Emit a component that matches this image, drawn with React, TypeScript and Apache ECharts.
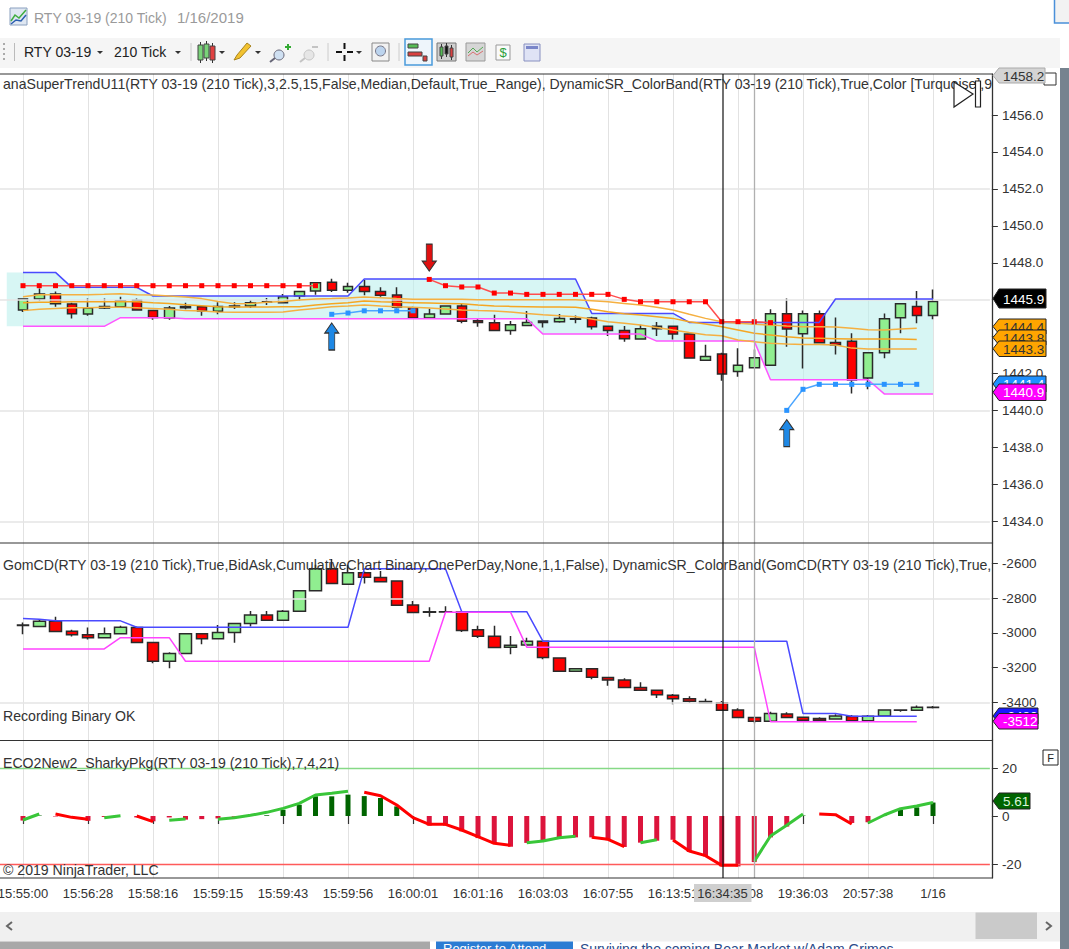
import React, { useEffect, useRef } from "react";
import * as echarts from "echarts";

const FONT = '"Liberation Sans", Arial, sans-serif';

// x-axis tick labels, one per four bars
const TICK_LABELS = ["15:55:00", "15:56:28", "15:58:16", "15:59:15", "15:59:43", "15:59:56", "16:00:01", "16:01:16", "16:03:03", "16:07:55", "16:13:51", "16:55:08", "19:36:03", "20:57:38", "1/16"];

// Price candles [open, close, low, high]
const PRICE_BARS = [
  [1445.44, 1446.04, 1445.33, 1446.04], [1446.04, 1446.31, 1445.95, 1446.61], [1446.31, 1445.78, 1445.62, 1446.45],
  [1445.77, 1445.24, 1444.99, 1445.84], [1445.23, 1445.55, 1445.13, 1446.06], [1445.64, 1445.55, 1445.50, 1446.06],
  [1445.62, 1445.95, 1445.59, 1446.16], [1445.97, 1445.44, 1445.41, 1446.06], [1445.42, 1445.04, 1444.92, 1445.46],
  [1445.01, 1445.55, 1444.92, 1445.66], [1445.64, 1445.57, 1445.48, 1445.84], [1445.62, 1445.39, 1445.13, 1445.66],
  [1445.37, 1445.64, 1445.21, 1445.87], [1445.62, 1445.66, 1445.50, 1445.86], [1445.66, 1445.84, 1445.55, 1445.98],
  [1445.86, 1445.89, 1445.71, 1446.09], [1445.84, 1446.16, 1445.84, 1446.31], [1446.20, 1446.45, 1445.95, 1446.45],
  [1446.47, 1446.92, 1446.27, 1446.96], [1446.94, 1446.51, 1446.42, 1447.14], [1446.51, 1446.72, 1446.38, 1446.92],
  [1446.72, 1446.45, 1446.24, 1447.07], [1446.45, 1446.24, 1446.16, 1446.67], [1446.25, 1445.59, 1445.53, 1446.67],
  [1445.57, 1445.01, 1444.99, 1445.62], [1445.01, 1445.23, 1444.97, 1445.51], [1445.23, 1445.66, 1445.23, 1445.66],
  [1445.66, 1444.83, 1444.72, 1445.77], [1444.86, 1444.77, 1444.54, 1444.99], [1444.76, 1444.34, 1444.34, 1445.19],
  [1444.34, 1444.65, 1444.11, 1444.85], [1444.61, 1444.77, 1444.58, 1445.39], [1444.85, 1444.77, 1444.50, 1444.86],
  [1444.81, 1444.99, 1444.76, 1445.23], [1444.94, 1444.97, 1444.72, 1445.15], [1445.01, 1444.54, 1444.39, 1445.08],
  [1444.56, 1444.34, 1444.03, 1444.58], [1444.34, 1443.89, 1443.73, 1444.58], [1443.87, 1444.43, 1443.85, 1444.65],
  [1444.43, 1444.56, 1444.03, 1444.79], [1444.56, 1444.14, 1443.85, 1444.58], [1444.14, 1442.84, 1442.84, 1444.14],
  [1442.72, 1442.93, 1442.72, 1443.56], [1443.06, 1441.98, 1441.62, 1443.13], [1442.12, 1442.45, 1441.83, 1443.37],
  [1442.32, 1442.86, 1442.32, 1443.31], [1442.45, 1445.24, 1442.45, 1445.48], [1445.24, 1444.41, 1443.46, 1446.07],
  [1444.16, 1445.24, 1442.28, 1445.41], [1445.24, 1443.67, 1443.67, 1445.41], [1443.69, 1443.55, 1443.04, 1445.04],
  [1443.75, 1441.65, 1440.93, 1444.18], [1441.76, 1443.13, 1441.15, 1443.13], [1443.13, 1444.97, 1442.83, 1445.26],
  [1445.03, 1445.78, 1444.18, 1445.78], [1445.64, 1445.15, 1444.72, 1446.47], [1445.15, 1445.9, 1444.94, 1446.56],
];

const BAND_UPPER = [
  1447.48, 1447.48, 1447.48, 1446.67, 1446.67, 1446.67, 1446.67, 1446.67, 1446.2, 1446.2, 1446.2, 1446.2, 1446.2, 1446.2, 1446.2, 1446.2, 1446.2, 1446.2, 1446.2, 1446.2, 1446.2,
  1447.12, 1447.12, 1447.12, 1447.12, 1447.12, 1447.12, 1447.12, 1447.12, 1447.12, 1447.12, 1447.12, 1447.12, 1447.12, 1447.12,
  1445.26, 1445.26, 1445.26, 1445.26, 1445.26, 1445.26, 1444.77, 1444.77, 1444.77, 1444.77, 1444.77, 1444.77, 1444.77, 1444.77, 1444.77,
  1446.04, 1446.04, 1446.04, 1446.04, 1446.04, 1446.04, 1446.04,
];
const BAND_LOWER = [
  1444.56, 1444.56, 1444.56, 1444.56, 1444.56, 1444.56, 1445.03, 1445.03, 1445.03, 1445.03,
  1444.97, 1444.97, 1444.97, 1444.97, 1444.97, 1444.97, 1444.97, 1444.97, 1444.97, 1444.97, 1444.97, 1444.97, 1444.97, 1444.97, 1444.97, 1444.97, 1444.97, 1444.97, 1444.97, 1444.97, 1444.97, 1444.97,
  1444.14, 1444.14, 1444.14, 1444.14, 1444.14, 1444.14, 1444.14, 1443.76, 1443.76, 1443.76, 1443.76, 1443.76, 1443.76, 1443.76,
  1441.67, 1441.67, 1441.67, 1441.67, 1441.67, 1441.67, 1441.67, 1440.9, 1440.9, 1440.9, 1440.9,
];
const TREND_RED = [
  1446.76, 1446.76, 1446.76, 1446.76, 1446.76, 1446.76, 1446.76, 1446.76, 1446.76, 1446.76, 1446.76, 1446.76, 1446.76, 1446.76, 1446.76, 1446.76, 1446.76, 1446.76, 1446.76,
  null, null, null, null, null, null,
  1447.1, 1446.76, 1446.69, 1446.69, 1446.36, 1446.36, 1446.29, 1446.29, 1446.29, 1446.29, 1446.29, 1446.29, 1446.02, 1445.89, 1445.89, 1445.89, 1445.89, 1445.89, 1444.81, 1444.81, 1444.81, 1444.76,
  null, null, null, null, null, null, null, null, null, null,
];
const TREND_BLUE = [
  null, null, null, null, null, null, null, null, null, null, null, null, null, null, null, null, null, null, null,
  1445.21, 1445.28, 1445.4, 1445.4, 1445.4, 1445.4,
  null, null, null, null, null, null, null, null, null, null, null, null, null, null, null, null, null, null, null, null, null, null,
  1440.01, 1441.15, 1441.42, 1441.42, 1441.42, 1441.42, 1441.42, 1441.42, 1441.42, null,
];
const MA_TOP = [
  1446.16, 1446.27, 1446.27, 1446.27, 1446.27, 1446.29, 1446.33, 1446.27, 1446.25, 1446.2, 1446.15, 1446.06, 1445.91, 1445.78, 1445.8, 1445.86, 1445.91, 1445.98, 1446.04, 1446.06, 1446.09,
  1446.15, 1446.11, 1446.06, 1446.02, 1446.02, 1446.02, 1446.02, 1446.0, 1446.0, 1446.0, 1446.0, 1446.0, 1446.0, 1446.0, 1445.95, 1445.89, 1445.8, 1445.71, 1445.59, 1445.44, 1445.21, 1444.99,
  1444.81, 1444.72, 1444.67, 1444.63, 1444.58, 1444.54, 1444.54, 1444.52, 1444.45, 1444.38, 1444.36, 1444.41, 1444.45, null,
];
const MA_MID = [
  1445.84, 1445.86, 1445.87, 1445.89, 1445.89, 1445.89, 1445.89, 1445.89, 1445.84, 1445.8, 1445.73, 1445.68, 1445.62, 1445.6, 1445.6, 1445.6, 1445.62, 1445.62, 1445.71, 1445.78, 1445.84,
  1445.93, 1445.89, 1445.86, 1445.84, 1445.82, 1445.8, 1445.78, 1445.71, 1445.66, 1445.64, 1445.62, 1445.6, 1445.6, 1445.59, 1445.48, 1445.35, 1445.24, 1445.17, 1445.08, 1444.99, 1444.81, 1444.68,
  1444.54, 1444.36, 1444.18, 1444.09, 1444.0, 1443.93, 1443.91, 1443.89, 1443.87, 1443.87, 1443.87, 1443.87, 1443.85, null,
];
const MA_LOW = [
  1445.41, 1445.48, 1445.53, 1445.57, 1445.57, 1445.59, 1445.59, 1445.57, 1445.53, 1445.48, 1445.41, 1445.39, 1445.33, 1445.32, 1445.32, 1445.32, 1445.33, 1445.44, 1445.53, 1445.62, 1445.66,
  1445.71, 1445.66, 1445.62, 1445.59, 1445.55, 1445.5, 1445.44, 1445.41, 1445.39, 1445.33, 1445.26, 1445.19, 1445.13, 1445.08, 1444.96, 1444.81, 1444.72, 1444.63, 1444.5, 1444.36, 1444.23, 1444.11,
  1444.05, 1443.82, 1443.73, 1443.64, 1443.6, 1443.58, 1443.58, 1443.55, 1443.38, 1443.33, 1443.33, 1443.33, 1443.33, null,
];
const ARROW_UP_AT = [[19, 1444.01], [47, 1438.78]];
const ARROW_DOWN_AT = [[25, 1448.28]];

// GomCD candles [open, close, low, high]
const DELTA_BARS = [
  [-2957, -2954, -3007, -2940], [-2963, -2932, -2963, -2919], [-2932, -2992, -2992, -2907], [-2990, -3011, -3021, -2982],
  [-3011, -3027, -3038, -2969], [-3027, -3004, -3027, -2969], [-3004, -2967, -3004, -2959], [-2969, -3055, -3055, -2963],
  [-3055, -3163, -3175, -3055], [-3163, -3119, -3204, -3111], [-3119, -3005, -3119, -3005], [-3005, -3034, -3065, -3002],
  [-3034, -2998, -3034, -2954], [-2998, -2946, -3057, -2946], [-2946, -2896, -2963, -2873], [-2896, -2927, -2927, -2873],
  [-2927, -2875, -2927, -2867], [-2875, -2757, -2875, -2757], [-2757, -2630, -2757, -2607], [-2630, -2715, -2715, -2573],
  [-2719, -2652, -2723, -2607], [-2652, -2679, -2715, -2646], [-2680, -2704, -2704, -2642], [-2700, -2840, -2840, -2700],
  [-2838, -2882, -2882, -2815], [-2877, -2880, -2907, -2852], [-2877, -2879, -2882, -2846], [-2879, -2986, -2994, -2879],
  [-2982, -3019, -3029, -2959], [-3019, -3084, -3084, -2959], [-3082, -3071, -3123, -3017], [-3069, -3048, -3069, -3027],
  [-3048, -3142, -3152, -3048], [-3144, -3221, -3221, -3144], [-3221, -3207, -3221, -3207], [-3207, -3255, -3267, -3207],
  [-3257, -3271, -3304, -3255], [-3271, -3315, -3315, -3261], [-3315, -3330, -3330, -3284], [-3330, -3357, -3375, -3327],
  [-3359, -3379, -3411, -3352], [-3379, -3394, -3404, -3365], [-3396, -3402, -3404, -3380], [-3402, -3446, -3446, -3392],
  [-3444, -3488, -3488, -3434], [-3488, -3509, -3521, -3488], [-3509, -3465, -3509, -3454], [-3467, -3488, -3488, -3457],
  [-3486, -3503, -3505, -3482], [-3494, -3503, -3507, -3486], [-3496, -3479, -3496, -3469], [-3482, -3507, -3511, -3473],
  [-3507, -3480, -3507, -3473], [-3479, -3444, -3479, -3444], [-3446, -3444, -3454, -3440], [-3446, -3429, -3446, -3419],
  [-3430, -3429, -3436, -3421],
];
const DELTA_UPPER = [
  -2917, -2921, -2930, -2930, -2930, -2930, -2930, -2967, -2967, -2967, -2967, -2967, -2967, -2967, -2967, -2967, -2967, -2967, -2967, -2967, -2967,
  -2630, -2630, -2630, -2630, -2630, -2630, -2877, -2877, -2877, -2877, -2877,
  -3048, -3048, -3048, -3048, -3048, -3048, -3048, -3048, -3048, -3048, -3048, -3048, -3048, -3048, -3048, -3048,
  -3465, -3465, -3465, -3480, -3480, -3480, -3480, -3480, null,
];
const DELTA_LOWER = [
  -3092, -3092, -3092, -3092, -3092, -3092, -3027, -3027, -3027, -3027,
  -3163, -3163, -3163, -3163, -3163, -3163, -3163, -3163, -3163, -3163, -3163, -3163, -3163, -3163, -3163, -3163,
  -2880, -2880, -2880, -2880, -2880,
  -3082, -3082, -3082, -3082, -3082, -3082, -3082, -3082, -3082, -3082, -3082, -3082, -3082, -3082, -3082,
  -3512, -3512, -3512, -3512, -3512, -3512, -3512, -3512, -3512, -3512, null,
];

// ECO2New2 histogram and signal line
const ECO_HIST = [
  -1.9, 0.2, -0.2, -0.5, -2, -0.4, 0, -0.6, -2.2, -0.6, -1.5, -1.3, -1, -0.3, 0, 0.3, 2.6, 4.7, 8.2, 8.2, 8.9, 8.3, 7.5, 4, 0,
  -4, -4, -6.4, -9.2, -11.7, -12.8, -11.2, -10.3, -9.4, -8.9, -8.9, -10.1, -12.9, -11.1, -10.3, -9.9, -15, -16.8, -21, -21, -19.2, -8.9, -4.4,
  0.2, 0, 0, -2.9, -2.6, 0.3, 2.5, 3.6, 5.61,
];
const ECO_GREEN = [
  -1.67, 0.83, null, null, null, -0.69, 0.14, null, null, -1.81, -1.25, null, -1.39, -0.69, 0.28, 1.53, 3.19, 5.28, 8.75, 9.45, 10.28,
  null, null, null, null, null, null, null, null, null, null, -11.11, -10.42, -9.03, -8.47, null, null, null, -11.11, -9.86,
  null, null, null, null, null, -18.89, -8.33, -3.89, 0.83, null, null, null, -2.92, 0.42, 3.06, 4.17, 5.61,
];
const ECO_RED = [
  null, null, 0.83, -0.56, -1.39, null, null, 0, -2.36, null, null, null, null, null, null, null, null, null, null, null, null,
  9.86, 8.47, 4.58, -0.69, -3.47, -3.47, -5.83, -8.61, -11.39, -12.22, null, null, null, null, -8.89, -9.72, -12.78, null, null,
  -10, -14.58, -16.53, -20.56, -20.56, null, null, null, null, 0.83, 0.56, -3.33, null, null, null, null, null,
];

const PRICE_TICKS = [1434, 1436, 1438, 1440, 1442, 1444, 1446, 1448, 1450, 1452, 1454, 1456];
const PRICE_GRID = [1434, 1440, 1446, 1452];
const DELTA_TICKS = [-3400, -3200, -3000, -2800, -2600];
const DELTA_GRID = [-3400, -2800];
const ECO_TICKS = [-20, 0, 20];

// one blank slot before the first bar, three after the last
const pad = (a: any[]) => [null, ...a, null, null, null];
const SLOTS = PRICE_BARS.length + 4;
const categories = Array.from({ length: SLOTS }, (_, i) => {
  const k = i - 1;
  return k >= 0 && k % 4 === 0 && k / 4 < TICK_LABELS.length ? TICK_LABELS[k / 4] : "";
});
const isTick = (i: number) => categories[i] !== "";
const candles = (a: number[][]) => [["-", "-", "-", "-"], ...a, ["-", "-", "-", "-"], ["-", "-", "-", "-"], ["-", "-", "-", "-"]];
const atSlots = (pts: number[][]) => {
  const out: any[] = new Array(SLOTS).fill(null);
  pts.forEach(([i, v]) => (out[i + 1] = v));
  return out;
};

const UP_ARROW = "path://M7 0 L14 10 L10 10 L10 27 L4 27 L4 10 L0 10 Z";
const DOWN_ARROW = "path://M4 0 L10 0 L10 17 L14 17 L7 27 L0 17 L4 17 Z";

function rect(x: number, y: number, w: number, h: number, fill: string, stroke?: string, z = 60, lw = 1) {
  return { type: "rect", silent: true, z, shape: { x, y, width: w, height: h }, style: { fill, stroke: stroke || "none", lineWidth: lw } };
}
function line(x1: number, y1: number, x2: number, y2: number, stroke: string, lw = 1, z = 60) {
  return { type: "line", silent: true, z, shape: { x1, y1, x2, y2 }, style: { stroke, lineWidth: lw } };
}
function poly(points: number[][], fill: string, stroke?: string, z = 60, lw = 1) {
  return { type: "polygon", silent: true, z, shape: { points }, style: { fill, stroke: stroke || "none", lineWidth: lw } };
}
function pline(points: number[][], stroke: string, lw = 1, z = 60) {
  return { type: "polyline", silent: true, z, shape: { points }, style: { fill: "none", stroke, lineWidth: lw } };
}
function text(x: number, y: number, s: string, size = 14.1, fill = "#333", z = 62, align = "left") {
  return { type: "text", silent: true, z, x, y, style: { text: s, fontSize: size, fontFamily: FONT, fill, align, verticalAlign: "middle" } };
}
let tagZ = 70;
function tag(y1: number, y2: number, xEnd: number, fill: string, s: string, color: string, stroke = "#222") {
  const m = (y1 + y2) / 2;
  tagZ += 2;
  return [
    poly([[993, m], [999, y1], [xEnd, y1], [xEnd, y2], [999, y2]], fill, stroke, tagZ),
    text(1003, m + 0.5, s, 13.5, color, tagZ + 1),
  ];
}
const caret = (x: number, y: number) => poly([[x, y], [x + 6, y], [x + 3, y + 3]], "#333");
const miniCandle = (x: number, y1: number, y2: number, w: number, fill: string) => [
  line(x + w / 2, y1 - 3, x + w / 2, y2 + 3, "#333"),
  rect(x, y1, w, y2 - y1, fill, "#444"),
];

function chromeElements() {
  tagZ = 70;
  return [
    // window title
    rect(10, 8, 17, 17, "#dfe7f2", "#8aa0bf"),
    pline([[11, 21], [15, 15], [19, 18], [26, 10]], "#3fae3f", 1.5),
    pline([[11, 24], [16, 20], [21, 21], [26, 15]], "#2a5db0", 1.5),
    text(34, 17.5, "RTY 03-19 (210 Tick)", 14, "#9a9a9a"),
    text(177, 17.5, "1/16/2019", 15, "#9a9a9a"),
    rect(1054.5, -2, 20, 25, "#f2f2f2", "#4a90d9", 60, 1.5),
    // toolbar
    rect(0, 38, 1060, 30, "#f5f5f5"),
    rect(3, 43, 2, 2, "#aaa"), rect(3, 48, 2, 2, "#aaa"), rect(3, 53, 2, 2, "#aaa"), rect(3, 58, 2, 2, "#aaa"),
    line(14.5, 43, 14.5, 61, "#bbb"),
    text(24, 52, "RTY 03-19", 14, "#222"),
    caret(97, 51),
    text(114, 52, "210 Tick", 14, "#222"),
    caret(175, 51),
    line(191, 43, 191, 61, "#ccc"),
    ...miniCandle(198, 45, 60, 5, "#79d279"),
    ...miniCandle(204, 44, 58, 5, "#79d279"),
    ...miniCandle(210, 46, 60, 5, "#e04040"),
    caret(219, 51),
    poly([[234, 60], [237, 55], [247, 43], [251, 46], [240, 58]], "#f2c230", "#a88420"),
    caret(255, 51),
    { type: "circle", silent: true, z: 60, shape: { cx: 279, cy: 55, r: 5 }, style: { fill: "#cfe0f2", stroke: "#667" } },
    line(270, 62, 275, 58, "#667", 2),
    rect(285, 46, 6, 2, "#33aa33"), rect(287, 44, 2, 6, "#33aa33"),
    { type: "circle", silent: true, z: 60, shape: { cx: 309, cy: 55, r: 5 }, style: { fill: "#e6e6e6", stroke: "#c4c4c4" } },
    line(300, 62, 305, 58, "#c4c4c4", 2),
    rect(312, 46, 6, 2, "#c4c4c4"),
    line(328, 43, 328, 61, "#ccc"),
    line(336, 52, 342, 52, "#111", 2), line(347, 52, 353, 52, "#111", 2), line(344.5, 43, 344.5, 49, "#111", 2), line(344.5, 55, 344.5, 61, "#111", 2),
    caret(356, 51),
    rect(372, 43, 17, 18, "#f2f2f2", "#888"),
    { type: "circle", silent: true, z: 61, shape: { cx: 380.5, cy: 51, r: 5 }, style: { fill: "#bcd4ee", stroke: "#778" } },
    line(399, 43, 399, 61, "#ccc"),
    rect(405, 39, 27, 26, "#eef5fb", "#4a9bdc", 60, 1.5),
    rect(408, 44, 10, 4, "#55bb55", "#444"), rect(408, 52, 14, 4, "#d94040", "#444"), rect(423, 56, 4, 5, "#d94040", "#444"),
    rect(437, 43, 19, 18, "#cfcfcf", "#777"),
    ...miniCandle(440, 47, 56, 3, "#55bb55"), ...miniCandle(445, 46, 54, 3, "#111"), ...miniCandle(450, 48, 57, 3, "#d94040"),
    rect(466, 43, 19, 18, "#d6d6d6", "#999"),
    pline([[468, 53], [473, 48], [477, 52], [483, 47]], "#55aa55"),
    pline([[468, 56], [473, 52], [477, 55], [483, 51]], "#d97070"),
    rect(496, 45, 14, 15, "#fafafa", "#999"),
    text(503, 52.5, "$", 13, "#2e9e3a", 62, "center"),
    rect(524, 44, 16, 17, "#dfe3f5", "#8890c0"),
    rect(526, 46, 12, 3, "#7a86c9"),
    // frame
    line(0, 74, 992, 74, "#333", 1.2, 40),
    line(0, 543, 992, 543, "#333", 1.2, 40),
    line(0, 740.5, 992, 740.5, "#333", 1.2, 40),
    line(0, 878, 992, 878, "#333", 1.2, 40),
    // vertical markers through all panels
    line(754.5, 74, 754.5, 878, "#b0b0b0", 1.3, 8),
    line(723, 74, 723, 878, "#111", 1.2, 50),
    // indicator captions
    text(3, 84, "anaSuperTrendU11(RTY 03-19 (210 Tick),3,2.5,15,False,Median,Default,True_Range), DynamicSR_ColorBand(RTY 03-19 (210 Tick),True,Color [Turquoise],9"),
    text(3, 565, "GomCD(RTY 03-19 (210 Tick),True,BidAsk,CumulativeChart Binary,OnePerDay,None,1,1,False), DynamicSR_ColorBand(GomCD(RTY 03-19 (210 Tick),True,"),
    text(3, 716, "Recording Binary OK"),
    text(3, 763, "ECO2New2_SharkyPkg(RTY 03-19 (210 Tick),7,4,21)"),
    text(3, 870, "© 2019 NinjaTrader, LLC"),
    // jump-to-end button
    poly([[954, 82], [973, 94], [954, 107]], "#fff", "#222", 65, 1.2),
    rect(975.5, 81, 5, 26, "#fff", "#222", 65, 1.2),
    // value tags
    rect(1044, 73, 12, 12, "#fff", "#333", 58),
    ...tag(68, 83, 1045, "#d4d4d4", "1458.2", "#333", "#aaa"),
    ...tag(289, 308, 1046, "#000", "1445.9", "#fff"),
    ...tag(319, 334, 1046, "#ffa500", "1444.4", "#333"),
    ...tag(330, 345, 1046, "#ffa500", "1443.8", "#333"),
    ...tag(341, 356.5, 1046, "#ffa500", "1443.3", "#333"),
    ...tag(376, 392, 1046, "#1e90ff", "1441.4", "#fff"),
    ...tag(384, 400.5, 1046, "#ff00ff", "1440.9", "#fff"),
    ...tag(708, 724, 1038, "#1a1aff", "-3480", "#fff"),
    ...tag(713.5, 729, 1038, "#ff00ff", "-3512", "#fff"),
    ...tag(793, 809, 1030, "#006400", "5.61", "#d8f5d8"),
    rect(1043, 750, 15, 15, "#fff", "#222"),
    text(1050.5, 758, "F", 11, "#222", 62, "center"),
    // crosshair time tag
    rect(694, 884, 57.5, 18, "#cfcfcf", undefined, 100),
    text(722.5, 893, "16:34:35", 13, "#333", 101, "center"),
    // scrollbar and window edge
    rect(0, 912, 1060, 29.5, "#f0f0f0"),
    rect(975.5, 912.5, 61.5, 26.5, "#cacaca"),
    pline([[12, 922], [7, 926], [12, 930]], "#666", 2),
    pline([[1046, 922], [1051, 926], [1046, 930]], "#666", 2),
    rect(1060, 68, 9, 881, "#76838f"),
    rect(0, 941.5, 430, 8, "#a8a8a8"),
    rect(436, 941.5, 137, 8, "#2b7cd3"),
    text(443, 948.5, "Register to Attend", 13, "#fff"),
    text(580, 948.5, "Surviving the coming Bear Market w/Adam Grimes", 14, "#2a4a8a"),
  ];
}

function panelSeries(xi: number, name: string, data: any[], color: string, extra: any = {}) {
  return {
    type: "line", name, xAxisIndex: xi, yAxisIndex: xi, data: pad(data), showSymbol: false, silent: true, z: 5,
    lineStyle: { color, width: 1.5 }, itemStyle: { color }, ...extra,
  };
}
const gridMarks = (vals: number[]) => ({
  silent: true, symbol: "none", animation: false, label: { show: false },
  lineStyle: { color: "#e4e4e4", width: 1.5, type: "solid" }, data: vals.map((v) => ({ yAxis: v })),
});
const candleStyle = { color: "#90ee90", color0: "#ff0000", borderColor: "#2a2a2a", borderColor0: "#2a2a2a", borderColorDoji: "#111", borderWidth: 1.5 };

const xAxisFor = (gridIndex: number, last: boolean) => ({
  type: "category", gridIndex, data: categories, boundaryGap: true,
  axisLine: { show: false },
  axisTick: { show: last, alignWithLabel: true, length: 8, interval: (i: number) => isTick(i), lineStyle: { color: "#333", width: 1.2 } },
  axisLabel: { show: last, interval: (i: number) => isTick(i), margin: 9, fontSize: 13, fontFamily: FONT, color: "#333" },
  splitLine: { show: true, alignWithLabel: true, interval: (i: number) => isTick(i), lineStyle: { color: "#e2e2e2", width: 1 } },
});
const yAxisFor = (gridIndex: number, min: number, max: number, ticks: number[], fmt: (v: number) => string) => ({
  type: "value", gridIndex, position: "right", offset: 2, min, max, scale: true,
  splitLine: { show: false },
  axisLine: { show: true, lineStyle: { color: "#333", width: 1.3 } },
  axisTick: { show: true, length: 6, customValues: ticks, lineStyle: { color: "#333" } },
  axisLabel: { show: true, margin: 10, fontSize: 13.5, fontFamily: FONT, color: "#333", customValues: ticks, formatter: fmt },
});

export default function App() {
  const ref = useRef<HTMLDivElement>(null);
  useEffect(() => {
    document.body.style.margin = "0";
    document.body.style.overflow = "hidden";
    const chart = echarts.init(ref.current!, null, { renderer: "svg" });
    const bandLow = [BAND_LOWER[0], ...BAND_LOWER, null, null, null];
    const bandDiff = [BAND_UPPER[0] - BAND_LOWER[0], ...BAND_UPPER.map((u, i) => +(u - BAND_LOWER[i]).toFixed(2)), null, null, null];
    const arrow = (name: string, pts: number[][], symbol: string, color: string) => ({
      type: "scatter", name, xAxisIndex: 0, yAxisIndex: 0, data: atSlots(pts), symbol, symbolSize: [14, 27], silent: true, z: 6,
      itemStyle: { color, borderColor: "#333", borderWidth: 1, opacity: 1 },
    });
    const gridBase = { left: -1.375, width: 991.25, outerBoundsMode: "none" };
    chart.setOption({
      animation: false,
      backgroundColor: "#ffffff",
      tooltip: { show: false },
      grid: [
        { ...gridBase, top: 74, height: 469 },
        { ...gridBase, top: 543, height: 197 },
        { ...gridBase, top: 740, height: 138 },
      ],
      xAxis: [xAxisFor(0, false), xAxisFor(1, false), xAxisFor(2, true)],
      yAxis: [
        yAxisFor(0, 1432.83, 1458.22, PRICE_TICKS, (v) => v.toFixed(1)),
        yAxisFor(1, -3617.5, -2481, DELTA_TICKS, (v) => String(v)),
        yAxisFor(2, -25.83, 31.67, ECO_TICKS, (v) => String(v)),
      ],
      series: [
        // price panel
        { type: "line", name: "band base", z: 1, xAxisIndex: 0, yAxisIndex: 0, stack: "band", data: bandLow, showSymbol: false, silent: true, lineStyle: { opacity: 0 }, itemStyle: { opacity: 0 }, markLine: gridMarks(PRICE_GRID) },
        { type: "line", name: "band fill", z: 1, xAxisIndex: 0, yAxisIndex: 0, stack: "band", data: bandDiff, showSymbol: false, silent: true, lineStyle: { opacity: 0 }, itemStyle: { opacity: 0 }, areaStyle: { color: "#bcf0ed", opacity: 0.6 } },
        { type: "candlestick", name: "RTY 03-19", z: 3, xAxisIndex: 0, yAxisIndex: 0, data: candles(PRICE_BARS), barWidth: 10, silent: true, itemStyle: candleStyle },
        panelSeries(0, "SR upper", BAND_UPPER, "#4a4aff"),
        panelSeries(0, "SR lower", BAND_LOWER, "#ff55ff"),
        panelSeries(0, "MA top", MA_TOP, "#f5b041"),
        panelSeries(0, "MA mid", MA_MID, "#f5a623"),
        panelSeries(0, "MA low", MA_LOW, "#f5b041"),
        panelSeries(0, "SuperTrend down", TREND_RED, "#ff3030", { showSymbol: true, symbol: "rect", symbolSize: 5, lineStyle: { color: "#ff4d4d", width: 1.5 }, itemStyle: { color: "#ff0000" } }),
        panelSeries(0, "SuperTrend up", TREND_BLUE, "#3b9cff", { showSymbol: true, symbol: "rect", symbolSize: 5, lineStyle: { color: "#4aa5ff", width: 1.5 }, itemStyle: { color: "#2a94ff" } }),
        arrow("arrow up", ARROW_UP_AT, UP_ARROW, "#1e88e5"),
        arrow("arrow down", ARROW_DOWN_AT, DOWN_ARROW, "#e01010"),
        // GomCD panel
        { type: "candlestick", name: "GomCD", z: 3, xAxisIndex: 1, yAxisIndex: 1, data: candles(DELTA_BARS), barWidth: 12, silent: true, itemStyle: candleStyle },
        panelSeries(1, "Delta SR upper", DELTA_UPPER, "#4a4aff", { markLine: gridMarks(DELTA_GRID) }),
        panelSeries(1, "Delta SR lower", DELTA_LOWER, "#ff44ff"),
        // ECO panel
        {
          type: "bar", name: "ECO histogram", z: 3, xAxisIndex: 2, yAxisIndex: 2, data: pad(ECO_HIST), barWidth: 5, silent: true,
          itemStyle: { color: (p: any) => (p.value >= 0 ? "#006400" : "#dc143c") },
          markLine: {
            silent: true, symbol: "none", label: { show: false },
            data: [
              { yAxis: 20, lineStyle: { color: "#86d986", width: 1.3, type: "solid" } },
              { yAxis: -20, lineStyle: { color: "#ff5a5a", width: 1.3, type: "solid" } },
            ],
          },
        },
        panelSeries(2, "ECO rising", ECO_GREEN, "#39c639", { lineStyle: { color: "#39c639", width: 3 } }),
        panelSeries(2, "ECO falling", ECO_RED, "#ff0000", { lineStyle: { color: "#ff0000", width: 3 } }),
      ],
      graphic: { elements: chromeElements() },
    });
    return () => chart.dispose();
  }, []);
  return <div ref={ref} style={{ position: "absolute", left: 0, top: 0, width: 1069, height: 949, background: "#fff" }} />;
}
